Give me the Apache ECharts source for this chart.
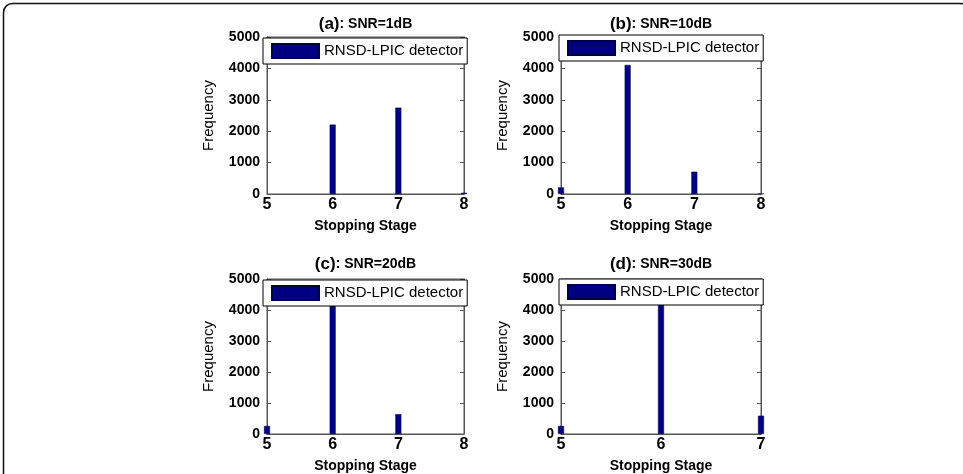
<!DOCTYPE html>
<html>
<head>
<meta charset="utf-8">
<script src="https://cdn.jsdelivr.net/npm/echarts@6/dist/echarts.min.js"></script>
<style>
  html, body { margin: 0; background: #fff; }
  #chart { width: 963px; height: 474px; }
</style>
</head>
<body>
<div id="chart"></div>
<script>
(function() {
  const seriesName = 'RNSD-LPIC detector';
  const panelTags = ['(a)', '(b)', '(c)', '(d)'];
  const snrLabels = [': SNR=1dB', ': SNR=10dB', ': SNR=20dB', ': SNR=30dB'];

  // stopping stage -> frequency, per panel
  const stagesA = [6, 7, 8];
  const freqA = [2210, 2750, 40];
  const stagesB = [5, 6, 7, 8];
  const freqB = [210, 4110, 710, 10];
  const stagesC = [5, 6, 7];
  const freqC = [260, 4300, 640];
  const stagesD = [5, 6, 7];
  const freqD = [260, 4300, 590];

  const stageMax = [8, 8, 8, 7];
  const yTicks = [0, 1000, 2000, 3000, 4000, 5000];

  const stages = [stagesA, stagesB, stagesC, stagesD];
  const freqs = [freqA, freqB, freqC, freqD];

  const font = 'Liberation Sans, Arial, sans-serif';
  const axisColor = '#555';
  const barColor = '#000080';

  const grids = [
    { left: 267, top: 37, width: 197, height: 157 },
    { left: 561, top: 37, width: 200, height: 157 },
    { left: 267, top: 279, width: 197, height: 156 },
    { left: 561, top: 279, width: 200, height: 156 }
  ];
  const legendPos = [[263, 38], [559, 35], [263, 280], [559, 279]];
  const titleTop = [16, 16, 256, 256];

  const xAxis = [], yAxis = [], series = [], legend = [], title = [];

  grids.forEach((g, i) => {
    g.show = true;
    g.borderColor = axisColor;
    g.borderWidth = 1;
    g.backgroundColor = '#fff';

    xAxis.push({
      gridIndex: i,
      type: 'value',
      min: 5,
      max: stageMax[i],
      interval: 1,
      name: 'Stopping Stage',
      nameLocation: 'middle',
      nameGap: 25,
      nameTextStyle: { fontFamily: font, fontWeight: 'bold', fontSize: 14, color: '#000' },
      axisLine: { lineStyle: { color: axisColor } },
      axisTick: { inside: true, length: 3, lineStyle: { color: axisColor } },
      axisLabel: { margin: 3, fontFamily: font, fontWeight: 'bold', fontSize: 16, color: '#000' },
      splitLine: { show: false }
    });

    yAxis.push({
      gridIndex: i,
      type: 'value',
      min: yTicks[0],
      max: yTicks[yTicks.length - 1],
      interval: yTicks[1] - yTicks[0],
      name: 'Frequency',
      nameLocation: 'middle',
      nameRotate: 90,
      nameGap: 51,
      nameTextStyle: { fontFamily: font, fontSize: 15, color: '#000' },
      axisLine: { show: true, lineStyle: { color: axisColor } },
      axisTick: { show: true, inside: true, length: 4, lineStyle: { color: axisColor } },
      axisLabel: {
        margin: 7, fontFamily: font, fontWeight: 'bold', fontSize: 14, color: '#000',
        formatter: v => String(v)
      },
      splitLine: { show: false }
    });
    yAxis.push({
      gridIndex: i,
      type: 'value',
      position: 'right',
      min: yTicks[0],
      max: yTicks[yTicks.length - 1],
      interval: yTicks[1] - yTicks[0],
      axisLine: { show: true, lineStyle: { color: axisColor } },
      axisTick: { show: true, inside: true, length: 4, lineStyle: { color: axisColor } },
      axisLabel: { show: false },
      splitLine: { show: false }
    });

    series.push({
      name: seriesName,
      type: 'bar',
      xAxisIndex: i,
      yAxisIndex: 2 * i,
      barWidth: 6,
      clip: true,
      itemStyle: { color: barColor, borderColor: '#00004a', borderWidth: 0.5 },
      data: stages[i].map((s, k) => [s, freqs[i][k]])
    });

    legend.push({
      left: legendPos[i][0],
      top: legendPos[i][1],
      data: [seriesName],
      icon: 'rect',
      itemWidth: 47,
      itemHeight: 14,
      padding: [5, 4, 5, 8],
      borderColor: '#000',
      borderWidth: 1,
      backgroundColor: '#fff',
      textStyle: { fontFamily: font, fontSize: 15, color: '#000' },
      selectedMode: false
    });

    title.push({
      text: '{p|' + panelTags[i] + '}{s|' + snrLabels[i] + '}',
      left: g.left + g.width / 2,
      top: titleTop[i],
      textAlign: 'center',
      padding: 0,
      textStyle: {
        rich: {
          p: { fontFamily: font, fontWeight: 'bold', fontSize: 17, color: '#000' },
          s: { fontFamily: font, fontWeight: 'bold', fontSize: 14, color: '#000' }
        }
      }
    });
  });

  const option = {
    animation: false,
    backgroundColor: '#fff',
    title: title,
    legend: legend,
    grid: grids,
    xAxis: xAxis,
    yAxis: yAxis,
    series: series,
    graphic: [{
      type: 'rect',
      silent: true,
      shape: { x: 3.5, y: 3.5, width: 966, height: 520, r: 9 },
      style: { fill: 'none', stroke: '#111', lineWidth: 1.5 }
    }]
  };

  const chart = echarts.init(document.getElementById('chart'));
  chart.setOption(option);
}());
</script>
</body>
</html>
